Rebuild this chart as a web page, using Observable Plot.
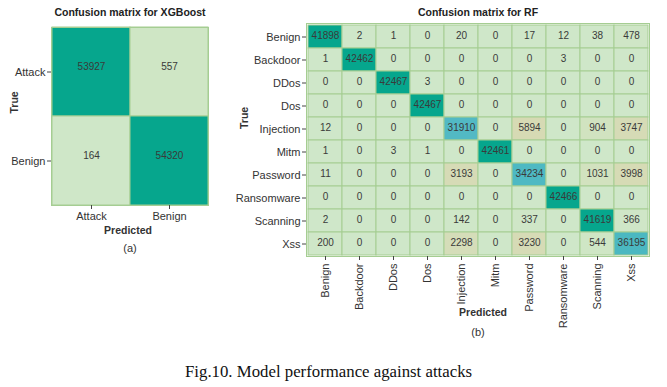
<!DOCTYPE html>
<html><head><meta charset="utf-8">
<script src="https://cdn.jsdelivr.net/npm/d3@7"></script>
<script src="https://cdn.jsdelivr.net/npm/@observablehq/plot@0.6"></script>
<style>
body{margin:0;background:#fff;}
#wrap{position:relative;width:667px;height:387px;overflow:hidden;font-family:"Liberation Sans",Arial,sans-serif;background:#fff;}
#a{position:absolute;left:0;top:0;}
#b{position:absolute;left:230px;top:0;}
#cap{position:absolute;left:185px;top:362px;white-space:nowrap;font-family:"Liberation Serif","Times New Roman",serif;font-size:16.8px;color:#111;}
</style></head><body>
<div id="wrap"><div id="a"></div><div id="b"></div><div id="cap">Fig.10. Model performance against attacks</div></div>
<script>
const xgbTitle = "Confusion matrix for XGBoost";
const xgbClasses = ["Attack", "Benign"];
const xgbMatrix = [
  [53927, 557],
  [164, 54320]
];
const rfTitle = "Confusion matrix for RF";
const rfClasses = ["Benign","Backdoor","DDos","Dos","Injection","Mitm","Password","Ransomware","Scanning","Xss"];
const rfMatrix = [
  [41898, 2, 1, 0, 20, 0, 17, 12, 38, 478],
  [1, 42462, 0, 0, 0, 0, 0, 3, 0, 0],
  [0, 0, 42467, 3, 0, 0, 0, 0, 0, 0],
  [0, 0, 0, 42467, 0, 0, 0, 0, 0, 0],
  [12, 0, 0, 0, 31910, 0, 5894, 0, 904, 3747],
  [1, 0, 3, 1, 0, 42461, 0, 0, 0, 0],
  [11, 0, 0, 0, 3193, 0, 34234, 0, 1031, 3998],
  [0, 0, 0, 0, 0, 0, 0, 42466, 0, 0],
  [2, 0, 0, 0, 142, 0, 337, 0, 41619, 366],
  [200, 0, 0, 0, 2298, 0, 3230, 0, 544, 36195]
];

function tidy(classes, m) {
  const out = [];
  m.forEach((row, i) => row.forEach((v, j) => out.push({t: classes[i], p: classes[j], v})));
  return out;
}

const colorScale = {
  type: "linear",
  domain: [0, 500, 1000, 3000, 6000, 30000, 37000, 41000, 55000],
  range: ["#cfe7c9", "#cfe6c6", "#d2e2bf", "#d6dbb6", "#d6dab4", "#55bac5", "#4ab8c1", "#06a68d", "#06a68d"]
};
const gridColor = "#a5cd92";
const baseStyle = {fontFamily: "'Liberation Sans', Arial, sans-serif", fontSize: "11px", color: "#333", background: "transparent", overflow: "visible"};

function cm({classes, matrix, title, width, height, margins, numDy, numSize, rotateX, lab}) {
  const data = tidy(classes, matrix);
  return Plot.plot({
    width, height,
    marginTop: margins[0], marginRight: margins[1], marginBottom: margins[2], marginLeft: margins[3],
    style: baseStyle,
    x: {domain: classes, padding: 0},
    y: {domain: classes, padding: 0},
    color: colorScale,
    marks: [
      Plot.cell(data, {x: "p", y: "t", fill: "v", stroke: gridColor, strokeWidth: 1}),
      Plot.text(data, {x: "p", y: "t", text: d => String(d.v), fill: "#3a3a3a", fontSize: numSize, dy: numDy, letterSpacing: "-0.3px"}),
      Plot.frame({stroke: gridColor}),
      Plot.axisX({tickSize: 4, tickPadding: 3, label: null, tickRotate: rotateX, stroke: "#444", fill: "#333"}),
      Plot.axisY({tickSize: 4, tickPadding: 2, label: null, stroke: "#444", fill: "#333"}),
      Plot.text([title], {frameAnchor: "top", text: d => d, dy: lab.titleDy, fontWeight: "bold", fontSize: 10.5, fill: "#222"}),
      Plot.text(["Predicted"], {frameAnchor: "bottom", text: d => d, dy: lab.predDy, dx: lab.predDx, fontWeight: "bold", fontSize: 10.5, fill: "#333"}),
      Plot.text([lab.sub], {frameAnchor: "bottom", text: d => d, dy: lab.subDy, fontSize: 11, fill: "#333"}),
      Plot.text(["True"], {frameAnchor: "left", text: d => d, dx: lab.trueDx, dy: lab.trueDy, rotate: -90, fontWeight: "bold", fontSize: 10.5, fill: "#333"})
    ]
  });
}

document.getElementById("a").append(cm({
  classes: xgbClasses, matrix: xgbMatrix, title: xgbTitle,
  width: 230, height: 262, margins: [27, 22, 57, 51], numDy: -5, numSize: 10, rotateX: 0,
  lab: {titleDy: -19, predDy: 28, predDx: -2, sub: "(a)", subDy: 46, trueDx: -37, trueDy: -3}
}));
document.getElementById("b").append(cm({
  classes: rfClasses, matrix: rfMatrix, title: rfTitle,
  width: 437, height: 340, margins: [23, 18, 84, 76], numDy: -1, numSize: 10, rotateX: -90,
  lab: {titleDy: -15, predDy: 59, predDx: 5, sub: "(b)", subDy: 79, trueDx: -62, trueDy: -11}
}));
</script>
</body></html>
